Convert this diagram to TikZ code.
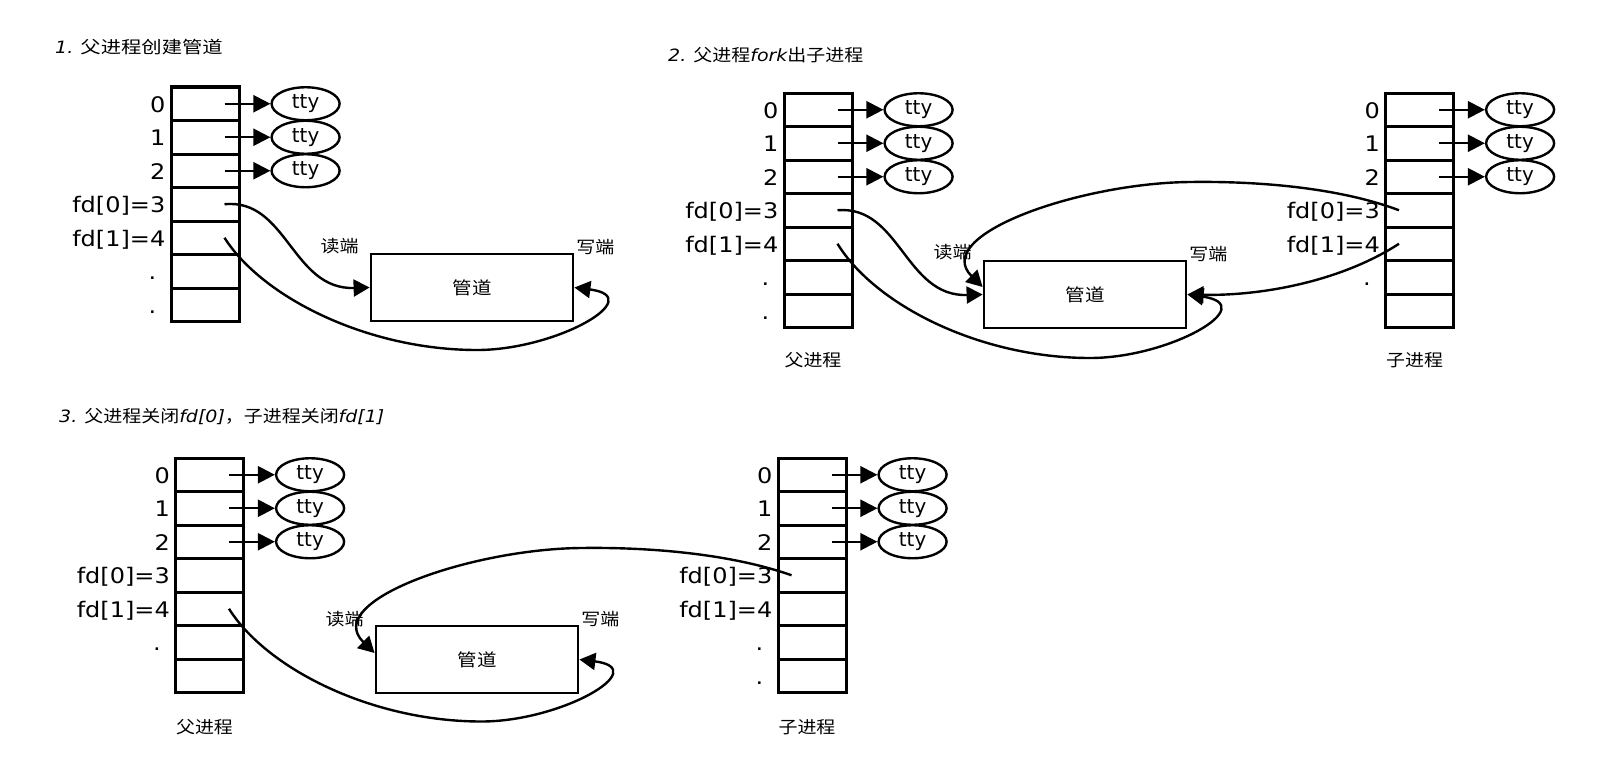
\documentclass[tikz,border=0pt]{standalone}
\usepackage{fontspec}
\setmainfont{DejaVu Sans}
\newfontfamily\cjk[FakeStretch=1.12]{Noto Sans CJK SC}
\newfontfamily\cjkbig[FakeStretch=1.2]{Noto Sans CJK SC}
\newfontfamily\latwide[FakeStretch=1.12]{DejaVu Sans}
\usepackage{tikz}
\usetikzlibrary{arrows.meta,positioning,shapes.geometric}

\begin{document}
\begin{tikzpicture}[
  x=1bp, y=-1bp,
  cell/.style={draw, line width=3bp, minimum width=68bp, minimum height=33.5bp, inner sep=0pt},
  num/.style={anchor=base east, inner sep=0pt, font=\latwide\fontsize{21.5}{24}\selectfont},
  dotlbl/.style={num, anchor=base},
  tty/.style={draw, ellipse, line width=2.4bp, minimum width=68bp, minimum height=33bp,
              inner sep=0pt, font=\fontsize{20}{22}\selectfont},
  pipe/.style={draw, line width=2.8bp, minimum width=202bp, minimum height=67bp,
               inner sep=0pt, font=\cjk\fontsize{17.5}{20}\selectfont},
  cn/.style={inner sep=0pt, font=\cjk\fontsize{17}{19}\selectfont},
  ttl/.style={anchor=west, inner sep=0pt, font=\fontsize{17}{20}\selectfont},
  toTTY/.style={line width=2.3bp, -{Triangle[length=17bp, width=17bp]}},
  link/.style={line width=2.4bp, -{Triangle[length=16bp, width=17bp]}}]
\path[fill=white, use as bounding box] (0,0) rectangle (1612,771);

% --- 1. parent creates the pipe
\node[ttl] (t1) at (55,47) {{\latwide\itshape 1.} {\cjkbig 父进程创建管道}};
\foreach \i in {1,...,7}
  \node[cell] (a\i) at (205, {87+(\i-0.5)*33.5}) {};
\foreach \i/\t in {1/0, 2/1, 3/2, 4/{fd[0]=3}, 5/{fd[1]=4}}
  \node[num] (na\i) at ([xshift=-4bp, yshift=-8.5bp]a\i.west) {\t};
\foreach \i in {6,7}
  \node[dotlbl] (na\i) at ([xshift=-17bp, yshift=-8.5bp]a\i.west) {.};
\foreach \i in {1,2,3} {
  \node[tty, right=29.9bp of a\i] (ya\i) {tty};
  \coordinate (sa\i) at ([xshift=-16bp]a\i.east);
  \draw[toTTY] (sa\i) -- (ya\i);
}
\node[pipe] (pipe1) at (472,287.5) {管道};
\node[cn] (rd1) at ([xshift=-30bp, yshift=6bp]pipe1.north west) {读端};
\node[cn] (wr1) at ([xshift=21bp, yshift=6bp]pipe1.north east) {写端};
\coordinate (ra) at ([xshift=-16bp]a4.east);
\coordinate (wa) at ([xshift=-16bp]a5.east);
\draw[link] (ra) .. controls (287,198) and (292,290) .. (pipe1.west);
\draw[link] (wa) .. controls (262,297) and (367,350) .. (477,350)
                 .. controls (557,350) and (649,297) .. (pipe1.east);

% --- 2. parent forks the child
\node[ttl] (t2) at (668,55) {{\latwide\itshape 2.} {\cjk 父进程}{\latwide\itshape fork}{\cjk 出子进程}};
\foreach \i in {1,...,7} {
  \node[cell] (b\i) at (818, {93+(\i-0.5)*33.5}) {};
  \node[cell] (c\i) at (1419.5, {93+(\i-0.5)*33.5}) {};
}
\foreach \i/\t in {1/0, 2/1, 3/2, 4/{fd[0]=3}, 5/{fd[1]=4}} {
  \node[num] (nb\i) at ([xshift=-4bp, yshift=-8.5bp]b\i.west) {\t};
  \node[num] (nc\i) at ([xshift=-4bp, yshift=-8.5bp]c\i.west) {\t};
}
\foreach \i in {6,7}
  \node[dotlbl] (nb\i) at ([xshift=-17bp, yshift=-8.5bp]b\i.west) {.};
\node[dotlbl] (nc6) at ([xshift=-17bp, yshift=-8.5bp]c6.west) {.};
\foreach \i in {1,2,3} {
  \node[tty, right=29.9bp of b\i] (yb\i) {tty};
  \node[tty, right=29.9bp of c\i] (yc\i) {tty};
  \coordinate (sb\i) at ([xshift=-16bp]b\i.east);
  \coordinate (sc\i) at ([xshift=-16bp]c\i.east);
  \draw[toTTY] (sb\i) -- (yb\i);
  \draw[toTTY] (sc\i) -- (yc\i);
}
\node[cn, below=23bp of b7, xshift=-5bp] (pb) {父进程};
\node[cn, below=23bp of c7, xshift=-5bp] (pc) {子进程};
\node[pipe] (pipe2) at (1085,294.5) {管道};
\node[cn] (rd2) at ([xshift=-30bp, yshift=7bp]pipe2.north west) {读端};
\node[cn] (wr2) at ([xshift=21bp, yshift=6bp]pipe2.north east) {写端};
\coordinate (rb) at ([xshift=-16bp]b4.east);
\coordinate (wb) at ([xshift=-16bp]b5.east);
\coordinate (rc) at ([xshift=15bp]c4.west);
\coordinate (wc) at ([xshift=15bp]c5.west);
\draw[link] (rb) .. controls (900,205) and (905,297) .. (pipe2.west);
\draw[link] (wb) .. controls (875,305) and (980,358) .. (1090,358)
                 .. controls (1170,358) and (1262,305) .. (pipe2.east);
\draw[link] (rc) .. controls (1340,188) and (1260,181) .. (1190,182)
                 .. controls (1080,183) and (930,235) .. ([yshift=7.5bp]pipe2.west);
\draw[link] (wc) .. controls (1340,282) and (1260,296) .. (pipe2.east);

% --- 3. parent closes fd[0], child closes fd[1]
\node[ttl] (t3) at (59,417) {{\latwide\itshape 3.} {\cjk 父进程关闭}{\latwide\itshape fd[0]}{\cjk ，子进程关闭}{\latwide\itshape fd[1]}};
\foreach \i in {1,...,7} {
  \node[cell] (d\i) at (209.5, {458+(\i-0.5)*33.5}) {};
  \node[cell] (e\i) at (812, {458+(\i-0.5)*33.5}) {};
}
\foreach \i/\t in {1/0, 2/1, 3/2, 4/{fd[0]=3}, 5/{fd[1]=4}} {
  \node[num] (nd\i) at ([xshift=-4bp, yshift=-8.5bp]d\i.west) {\t};
  \node[num] (ne\i) at ([xshift=-4bp, yshift=-8.5bp]e\i.west) {\t};
}
\node[dotlbl] (nd6) at ([xshift=-17bp, yshift=-8.5bp]d6.west) {.};
\foreach \i in {6,7}
  \node[dotlbl] (ne\i) at ([xshift=-17bp, yshift=-8.5bp]e\i.west) {.};
\foreach \i in {1,2,3} {
  \node[tty, right=29.9bp of d\i] (yd\i) {tty};
  \node[tty, right=29.9bp of e\i] (ye\i) {tty};
  \coordinate (sd\i) at ([xshift=-16bp]d\i.east);
  \coordinate (se\i) at ([xshift=-16bp]e\i.east);
  \draw[toTTY] (sd\i) -- (yd\i);
  \draw[toTTY] (se\i) -- (ye\i);
}
\node[cn, below=25bp of d7, xshift=-5bp] (pd) {父进程};
\node[cn, below=25bp of e7, xshift=-5bp] (pe) {子进程};
\node[pipe] (pipe3) at (477,659.5) {管道};
\node[cn] (rd3) at ([xshift=-30bp, yshift=6bp]pipe3.north west) {读端};
\node[cn] (wr3) at ([xshift=21bp, yshift=6bp]pipe3.north east) {写端};
\coordinate (wd) at ([xshift=-16bp]d5.east);
\coordinate (re) at ([xshift=15bp]e4.west);
\draw[link] (wd) .. controls (266.5,668.5) and (371.5,721.5) .. (481.5,721.5)
                 .. controls (561.5,721.5) and (653.5,668.5) .. (pipe3.east);
\draw[link] (re) .. controls (731,554) and (651,547) .. (581,548)
                 .. controls (471,549) and (321,601) .. ([yshift=6.5bp]pipe3.west);
\end{tikzpicture}
\end{document}
